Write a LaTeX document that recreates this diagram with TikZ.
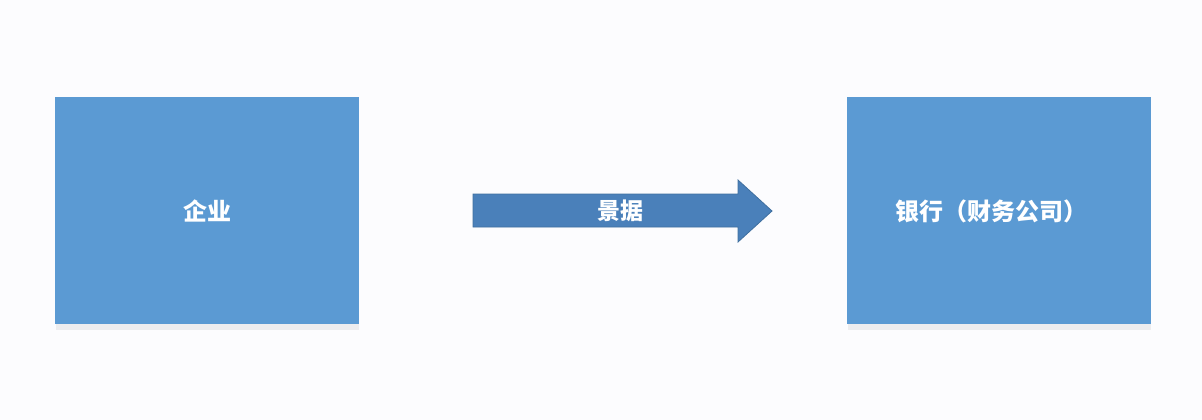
\documentclass[tikz,border=0pt]{standalone}
\usepackage{fontspec}
\newfontfamily\cjk{Noto Sans CJK SC}
\definecolor{bg}{HTML}{FCFCFE}
\definecolor{boxblue}{HTML}{5B9AD3}
\definecolor{arrowblue}{HTML}{4A80BA}
\definecolor{arrowedge}{HTML}{3F6F9F}
\tikzset{
  blockbox/.style={fill=boxblue, draw=none, minimum width=304pt, minimum height=227pt, inner sep=0pt,
    font=\cjk\bfseries\fontsize{24}{28}\selectfont, text=white},
  label/.style={font=\cjk\bfseries\fontsize{23}{27}\selectfont, text=white, inner sep=0pt},
  shadowstrip/.style={fill=black, fill opacity=0.06, draw=none},
}
\begin{document}
\begin{tikzpicture}[x=1pt,y=-1pt]
\fill[bg] (0,0) rectangle (1202,420);
\useasboundingbox (0,0) rectangle (1202,420);
% shadows
\fill[shadowstrip] (56,320) rectangle (359,330);
\fill[shadowstrip] (848,320) rectangle (1151,330);
\node[blockbox] (ent) at (207,210.5) {企业};
\node[blockbox] (bank) at (999,210.5) {};
\node[label, font=\cjk\bfseries\fontsize{24}{28}\selectfont] (banktext) at (991,211) {银行（财务公司）};
% block arrow
\draw[fill=arrowblue, draw=arrowedge, line width=0.8pt, line join=miter]
  (473,194) -- (738,194) -- (738,180) -- (772,211) -- (738,242) -- (738,227) -- (473,227) -- cycle;
\node[label] (bill) at (620,211) {景据};
\end{tikzpicture}
\end{document}
